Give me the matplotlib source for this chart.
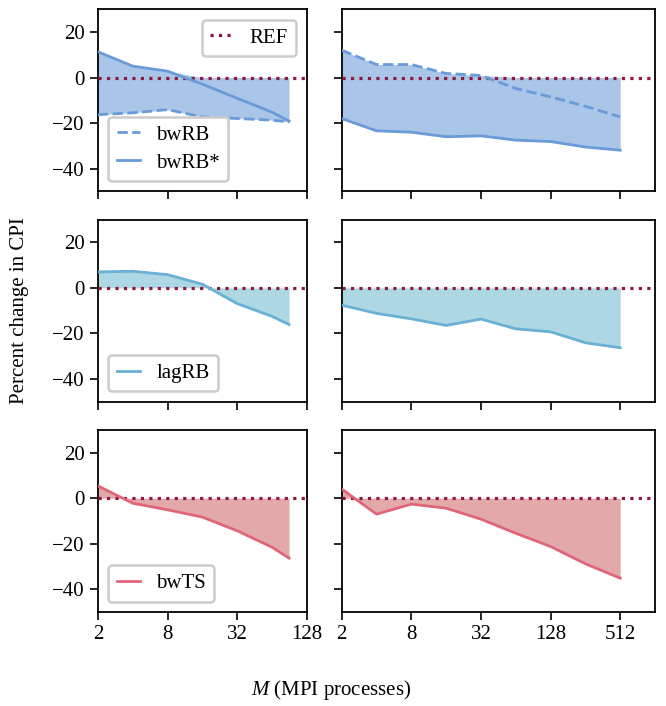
import numpy as np
import matplotlib.pyplot as plt
from matplotlib.gridspec import GridSpec

plt.rcParams['font.family'] = ['Liberation Serif', 'DejaVu Serif']
plt.rcParams['mathtext.fontset'] = 'custom'
plt.rcParams['mathtext.it'] = 'Liberation Serif:italic'
plt.rcParams['mathtext.rm'] = 'Liberation Serif'
plt.rcParams['font.size'] = 15

# x values (MPI processes)
m_left = [2, 4, 8, 16, 32, 64, 90]
m_right = [2, 4, 8, 16, 32, 64, 128, 256, 512]

# percent change in CPI
bwrb_left = [-16.3, -15.5, -14.1, -17.3, -18.0, -18.7, -19.5]
bwrb_star_left = [11.3, 5.0, 2.8, -2.9, -9.1, -15.2, -19.1]
bwrb_right = [12.0, 5.7, 5.7, 1.8, 0.9, -4.8, -8.5, -12.6, -17.3]
bwrb_star_right = [-18.0, -23.4, -24.0, -26.0, -25.6, -27.5, -28.1, -30.5, -31.9]
lagrb_left = [7.0, 7.3, 5.8, 1.6, -6.9, -12.5, -16.1]
lagrb_right = [-7.6, -11.2, -13.6, -16.5, -13.7, -18.0, -19.3, -24.1, -26.3]
bwts_left = [5.4, -2.2, -5.1, -8.3, -14.3, -21.5, -26.3]
bwts_right = [4.0, -7.0, -2.6, -4.4, -9.2, -15.4, -21.2, -28.8, -35.1]

ticks_left = [2, 8, 32, 128]
ticks_right = [2, 8, 32, 128, 512]
yticks = [-40, -20, 0, 20]

ref_color = '#8b1a3c'
blue, blue_fill = '#6a9bd8', '#a9c5e8'
cyan, cyan_fill = '#6ab0d4', '#acd7e3'
red, red_fill = '#e0657a', '#e3a9aa'

fig = plt.figure(figsize=(6.66, 7.06), dpi=100)
gs = GridSpec(3, 2, figure=fig, width_ratios=[6, 9], left=0.147, right=0.9835,
              top=0.987, bottom=0.133, hspace=0.154, wspace=0.134)

lw = 2.0


def style(ax, left, bottom_row):
    ax.set_xscale('log', base=2)
    if left:
        ax.set_xlim(2, 128)
        ax.set_xticks(ticks_left)
    else:
        ax.set_xlim(2, 1024)
        ax.set_xticks(ticks_right)
    ax.set_xticklabels([str(t) for t in ax.get_xticks()] if bottom_row else [])
    ax.xaxis.set_minor_locator(plt.NullLocator())
    ax.set_ylim(-50, 30)
    ax.set_yticks(yticks)
    if not left:
        ax.set_yticklabels([])
    ax.tick_params(length=6, width=1.2, direction='out')
    for s in ax.spines.values():
        s.set_linewidth(1.3)


def ref(ax):
    return ax.axhline(0, color=ref_color, ls=':', lw=2.3, zorder=3, label='REF')


leg_kw = dict(frameon=True, fancybox=True, edgecolor='#cccccc', framealpha=1,
              handlelength=1.1, borderpad=0.4, labelspacing=0.4)

# row 1: bwRB / bwRB*
for col, (x, dash, solid) in enumerate([(m_left, bwrb_left, bwrb_star_left),
                                        (m_right, bwrb_right, bwrb_star_right)]):
    ax = fig.add_subplot(gs[0, col])
    d, s = np.array(dash), np.array(solid)
    lo = np.minimum(np.minimum(d, s), 0)
    hi = np.maximum(np.maximum(d, s), 0)
    ax.fill_between(x, lo, hi, color=blue_fill, lw=0, zorder=1)
    r = ref(ax)
    l1, = ax.plot(x, dash, color=blue, ls='--', lw=lw, zorder=4, label='bwRB')
    l2, = ax.plot(x, solid, color=blue, ls='-', lw=lw, zorder=4, label='bwRB*')
    style(ax, col == 0, False)
    if col == 0:
        leg1 = ax.legend(handles=[r], loc='upper right', **leg_kw)
        leg1.get_frame().set_linewidth(1.8)
        ax.add_artist(leg1)
        leg2 = ax.legend(handles=[l1, l2], loc='lower left', **leg_kw)
        leg2.get_frame().set_linewidth(1.8)

# rows 2 and 3: single series
rows = [(lagrb_left, lagrb_right, cyan, cyan_fill, 'lagRB'),
        (bwts_left, bwts_right, red, red_fill, 'bwTS')]
for i, (yl, yr, c, cf, name) in enumerate(rows, start=1):
    for col, (x, y) in enumerate([(m_left, yl), (m_right, yr)]):
        ax = fig.add_subplot(gs[i, col])
        ax.fill_between(x, 0, y, color=cf, lw=0, zorder=1)
        ref(ax)
        ln, = ax.plot(x, y, color=c, lw=lw, zorder=4, label=name)
        style(ax, col == 0, i == 2)
        if col == 0:
            leg = ax.legend(handles=[ln], loc='lower left', **leg_kw)
            leg.get_frame().set_linewidth(1.8)

fig.text(0.03, 0.56, 'Percent change in CPI', rotation=90, ha='center', va='center')
fig.text(0.497, 0.022, '$M$ (MPI processes)', ha='center', va='center')

fig.savefig('out.png', dpi=100)
